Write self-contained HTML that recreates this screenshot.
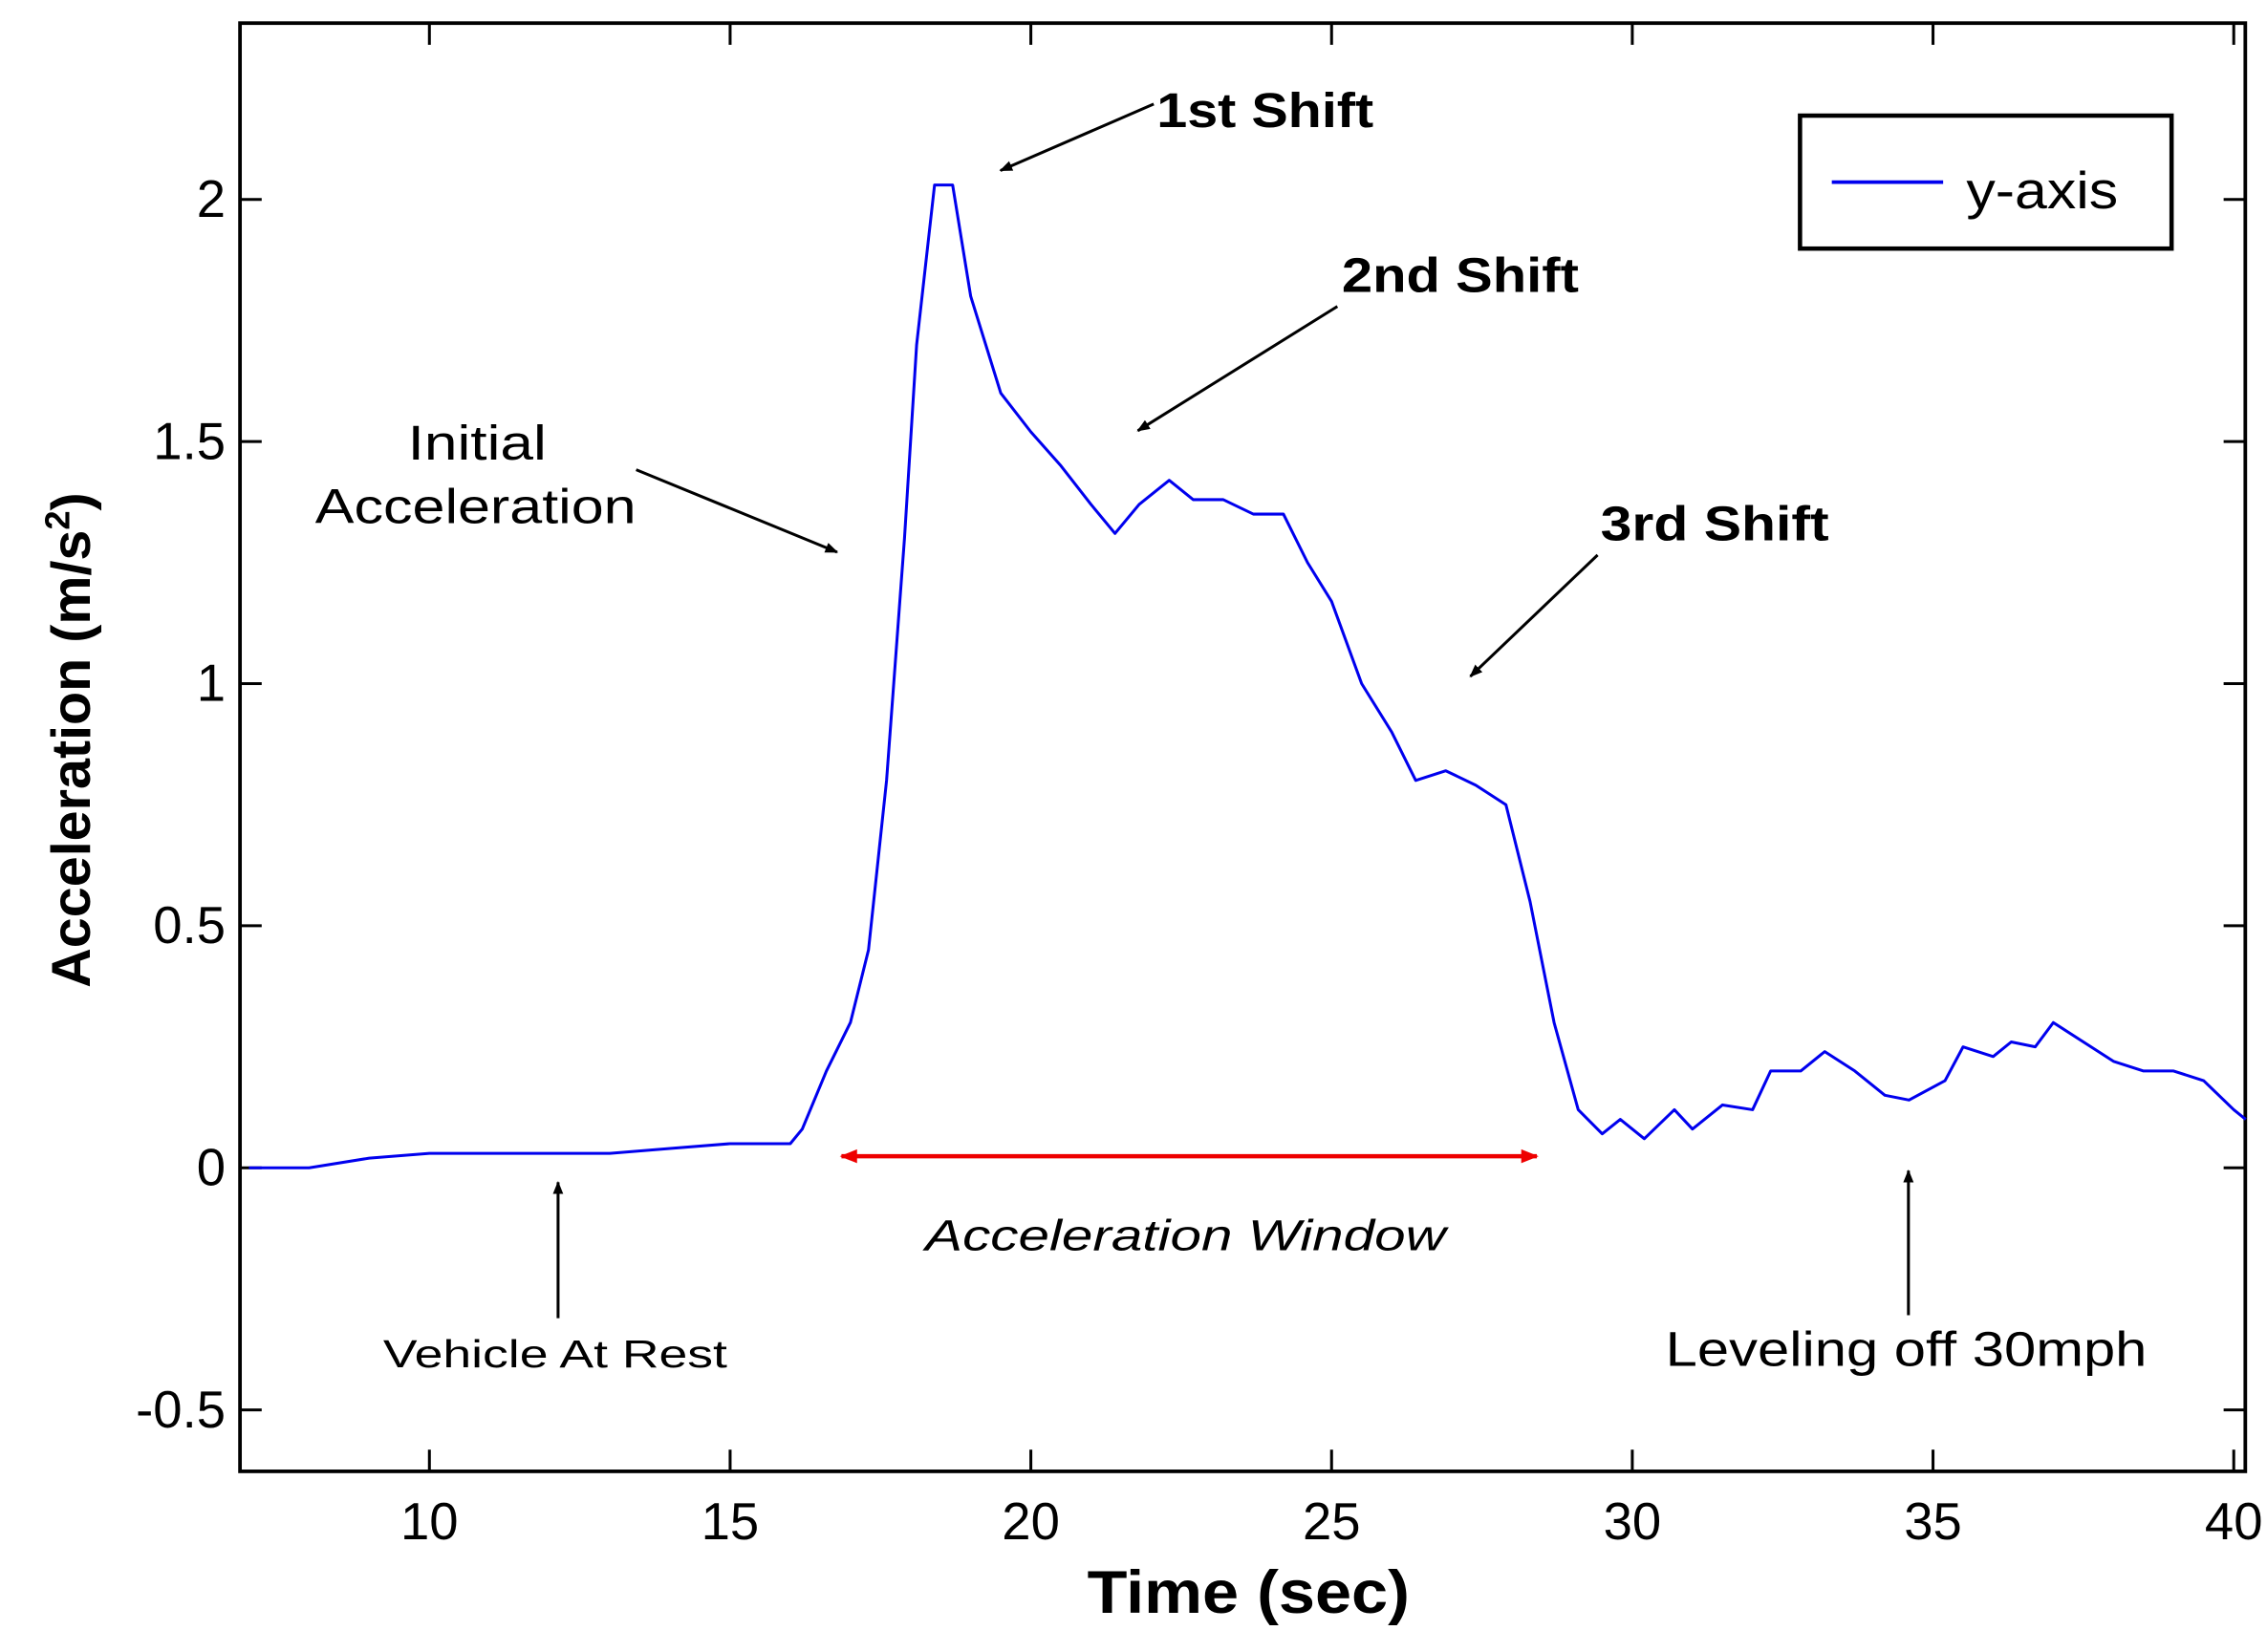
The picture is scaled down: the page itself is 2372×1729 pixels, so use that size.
<!DOCTYPE html>
<html><head><meta charset="utf-8"><style>
html,body{margin:0;padding:0;background:#fff;}
svg{display:block;}
text{font-family:"Liberation Sans",sans-serif;}
</style></head><body>
<svg id="chart" width="2372" height="1729" viewBox="0 0 1568 1143" preserveAspectRatio="none" xmlns="http://www.w3.org/2000/svg">
<defs>
<marker id="ah" viewBox="0 0 10 10" refX="9" refY="5" markerWidth="9" markerHeight="9" orient="auto-start-reverse" markerUnits="userSpaceOnUse"><path d="M0,1 L10,5 L0,9 Z" fill="#000"/></marker>
<marker id="ahr" viewBox="0 0 10 10" refX="9" refY="5" markerWidth="14" markerHeight="12" orient="auto-start-reverse" markerUnits="userSpaceOnUse"><path d="M0,1 L10,5 L0,9 Z" fill="#e00"/></marker>
</defs>
<rect x="166" y="16" width="1387" height="1002" fill="#fff" stroke="#000" stroke-width="2.5"/>
<g id="ticks"></g>
<path id="series" fill="none" stroke="#0000ee" stroke-width="2" stroke-linejoin="round"/>
<g>
<rect x="1245" y="80" width="257" height="92" fill="#fff" stroke="#000" stroke-width="3"/>
<line x1="1267" y1="126" x2="1344" y2="126" stroke="#0000ee" stroke-width="2.5"/>
<text x="1360" y="144" font-size="36" textLength="105" lengthAdjust="spacingAndGlyphs">y-axis</text>
</g>
<text x="800" y="88" font-size="34" font-weight="bold" textLength="150" lengthAdjust="spacingAndGlyphs">1st Shift</text>
<line x1="798" y1="72" x2="692" y2="118" stroke="#000" stroke-width="2" marker-end="url(#ah)"/>
<text x="928" y="202" font-size="34" font-weight="bold" textLength="164" lengthAdjust="spacingAndGlyphs">2nd Shift</text>
<line x1="925" y1="212" x2="787" y2="298" stroke="#000" stroke-width="2" marker-end="url(#ah)"/>
<text x="1107" y="374" font-size="34" font-weight="bold" textLength="158" lengthAdjust="spacingAndGlyphs">3rd Shift</text>
<line x1="1105" y1="384" x2="1017" y2="468" stroke="#000" stroke-width="2" marker-end="url(#ah)"/>
<text x="282" y="318" font-size="34" textLength="96" lengthAdjust="spacingAndGlyphs">Initial</text>
<text x="218" y="362" font-size="34" textLength="222" lengthAdjust="spacingAndGlyphs">Acceleration</text>
<line x1="440" y1="325" x2="579" y2="382" stroke="#000" stroke-width="2" marker-end="url(#ah)"/>
<line x1="582" y1="800" x2="1063" y2="800" stroke="#e00" stroke-width="3" marker-start="url(#ahr)" marker-end="url(#ahr)"/>
<text x="640" y="865" font-size="30" font-style="italic" textLength="360" lengthAdjust="spacingAndGlyphs">Acceleration Window</text>
<line x1="386" y1="912" x2="386" y2="818" stroke="#000" stroke-width="2" marker-end="url(#ah)"/>
<text x="265" y="946" font-size="27" textLength="238" lengthAdjust="spacingAndGlyphs">Vehicle At Rest</text>
<line x1="1320" y1="910" x2="1320" y2="810" stroke="#000" stroke-width="2" marker-end="url(#ah)"/>
<text x="1152" y="945" font-size="34" textLength="333" lengthAdjust="spacingAndGlyphs">Leveling off 30mph</text>
<text x="752" y="1116" font-size="42" font-weight="bold" textLength="223" lengthAdjust="spacingAndGlyphs">Time (sec)</text>
<text transform="translate(62,512) rotate(-90)" font-size="38" font-weight="bold" text-anchor="middle">Acceleration (m/s<tspan font-size="24" dy="-14">2</tspan><tspan dy="14">)</tspan></text>
</svg>
<script>
const times = [7,8,9,10,11,12,13,14,15,16,16.2,16.6,17,17.3,17.6,17.9,18.1,18.4,18.7,19,19.5,20,20.5,21,21.4,21.8,22.3,22.7,23.2,23.7,24.2,24.6,25,25.5,26,26.4,26.9,27.4,27.9,28.3,28.7,29.1,29.5,29.8,30.2,30.7,31,31.5,32,32.3,32.8,33.2,33.7,34.2,34.6,35.2,35.5,36,36.3,36.7,37,37.5,38,38.5,39,39.5,40,40.2];
const accel = [0,0,0.02,0.03,0.03,0.03,0.03,0.04,0.05,0.05,0.08,0.2,0.3,0.45,0.8,1.3,1.7,2.03,2.03,1.8,1.6,1.52,1.45,1.37,1.31,1.37,1.42,1.38,1.38,1.35,1.35,1.25,1.17,1.0,0.9,0.8,0.82,0.79,0.75,0.55,0.3,0.12,0.07,0.1,0.06,0.12,0.08,0.13,0.12,0.2,0.2,0.24,0.2,0.15,0.14,0.18,0.25,0.23,0.26,0.25,0.3,0.26,0.22,0.2,0.2,0.18,0.12,0.1];
const xTicks = [10,15,20,25,30,35,40];
const yTicks = [-0.5,0,0.5,1,1.5,2];
const yTickLabels = ["-0.5","0","0.5","1","1.5","2"];
const NS = "http://www.w3.org/2000/svg";
function xs(t){ return 297 + (t - 10) * 41.6; }
function ys(v){ return 808 - v * 335; }
const path = document.getElementById('series');
path.setAttribute('d', times.map((t,i)=>(i?'L':'M')+xs(t).toFixed(1)+','+ys(accel[i]).toFixed(1)).join(' '));
const g = document.getElementById('ticks');
function mk(tag, attrs){ const e=document.createElementNS(NS,tag); for(const k in attrs) e.setAttribute(k,attrs[k]); g.appendChild(e); return e; }
xTicks.forEach(t=>{
  const x=xs(t);
  const a=mk('line',{x1:x,y1:1018,x2:x,y2:1003,stroke:'#000','stroke-width':2});
  
  
  const b=mk('line',{x1:x,y1:16,x2:x,y2:31,stroke:'#000','stroke-width':2});
  
  
  const l=mk('text',{x:x,y:1065,'font-size':36,'text-anchor':'middle'});
  l.textContent=String(t);
  
  
});
yTicks.forEach((v,i)=>{
  const y=ys(v);
  const a=mk('line',{x1:166,y1:y,x2:181,y2:y,stroke:'#000','stroke-width':2});
  
  
  const b=mk('line',{x1:1553,y1:y,x2:1538,y2:y,stroke:'#000','stroke-width':2});
  
  
  const l=mk('text',{x:156,y:y+12,'font-size':36,'text-anchor':'end'});
  l.textContent=yTickLabels[i];
  
  
});
</script>
</body></html>
